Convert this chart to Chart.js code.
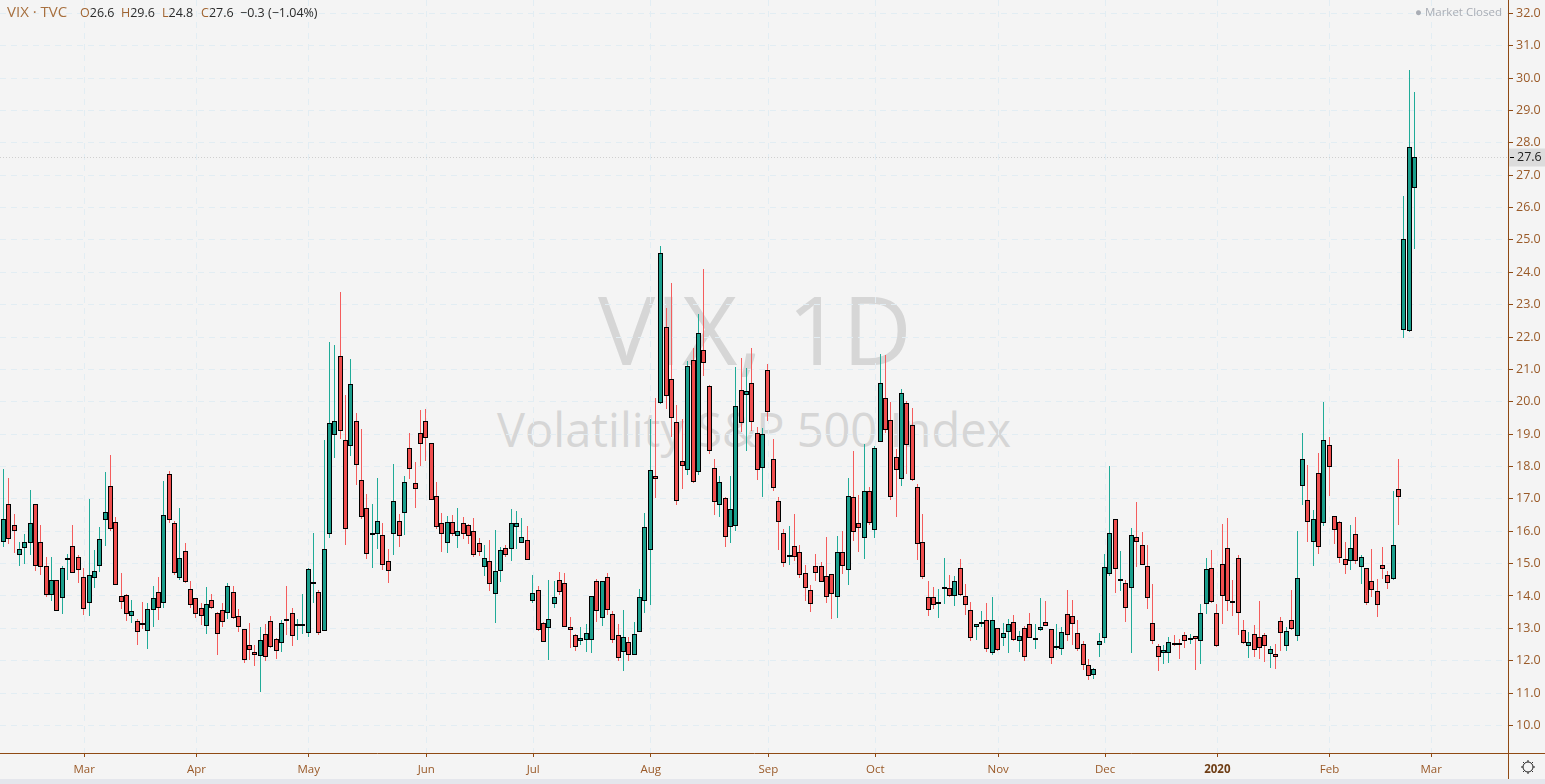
<!DOCTYPE html>
<html>
<head>
<meta charset="utf-8">
<title>VIX</title>
<script src="https://cdn.jsdelivr.net/npm/chart.js@4/dist/chart.umd.js"></script>
<style>
  html, body { margin: 0; padding: 0; background: #e4e6ec; }
  #wrap { position: relative; width: 1545px; height: 779px; background: #f4f4f4; overflow: hidden; font-family: "Open Sans", sans-serif; }
  #chart { position: absolute; left: 0; top: 0; }
  .mark { position: absolute; color: #d6d6d6; white-space: nowrap; }
  #mark1 { left: 598px; top: 262px; font-size: 96px; }
  #mark2 { left: 497px; top: 397px; font-size: 47px; }
  #legend span { position: absolute; top: 4px; font-size: 12.5px; color: #2b2b2b; white-space: nowrap; }
  #legend span b { font-weight: normal; color: #a0632f; }
  #legend .name { top: 1px; font-size: 15px; color: #a8703f; }
  #status { position: absolute; left: 1415px; top: 4px; font-size: 11.5px; color: #a9adb5; white-space: nowrap; }
</style>
</head>
<body>
<div id="wrap">
  <div class="mark" id="mark1">VIX, 1D</div>
  <div class="mark" id="mark2">Volatility S&amp;P 500 Index</div>
  <canvas id="chart" width="1545" height="779"></canvas>
  <div id="legend">
    <span class="name" style="left:7px">VIX · TVC</span>
    <span style="left:80px"><b>O</b>26.6</span>
    <span style="left:121px"><b>H</b>29.6</span>
    <span style="left:162px"><b>L</b>24.8</span>
    <span style="left:201px"><b>C</b>27.6</span>
    <span style="left:240px">−0.3 (−1.04%)</span>
  </div>
  <div id="status">● Market Closed</div>
</div>
<script>
var opens = [15.66,16.83,16.18,15.26,15.47,15.63,16.83,15.66,14.92,14.02,
  14.48,13.93,15.16,15.53,15.19,14.58,13.77,14.55,14.92,16.34,
  17.39,16.28,13.99,14.02,13.37,13.22,13.16,12.91,13.56,14.11,
  13.77,17.76,16.25,14.55,15.38,14.21,13.93,13.62,13.06,13.87,
  13.46,13.56,13.46,14.11,13.37,12.97,12.48,12.26,12.14,12.82,
  13.22,12.66,12.54,13.30,13.46,13.06,13.12,12.87,14.36,14.11,
  12.92,15.90,18.96,21.40,18.81,18.62,19.39,17.57,16.71,15.90,
  15.90,15.87,15.07,15.93,16.33,16.55,18.56,17.48,19.05,19.42,
  18.74,17.08,16.24,15.65,16.30,15.84,16.27,16.18,16.00,15.65,
  14.91,15.07,14.05,14.76,15.47,15.44,16.12,15.65,15.72,13.86,
  14.17,13.18,13.00,13.74,14.48,14.39,13.03,12.78,12.60,12.63,
  12.63,14.45,13.31,14.58,13.43,12.81,12.26,12.59,12.17,12.88,
  13.84,15.41,17.70,19.95,22.30,20.69,19.37,18.16,17.88,21.28,
  17.82,21.59,20.48,17.95,16.80,17.02,16.12,16.15,20.36,20.20,
  20.57,19.03,17.95,20.97,18.22,16.93,15.94,15.26,15.54,15.35,
  14.70,14.17,14.92,14.92,14.61,14.67,13.96,15.35,14.79,17.05,
  16.24,15.78,17.23,16.03,18.75,20.11,19.43,18.28,17.60,19.95,
  19.27,17.36,15.66,13.96,13.96,13.80,14.21,14.24,13.99,14.85,
  13.99,13.56,13.03,13.20,13.25,12.23,13.00,12.69,12.88,13.19,
  12.60,13.00,13.15,12.68,12.94,13.19,12.97,12.41,12.35,13.43,
  13.37,12.85,12.53,11.87,11.57,12.50,12.69,14.69,16.39,14.48,
  14.39,14.26,15.81,15.56,14.94,13.18,12.46,12.25,12.25,12.56,
  12.55,12.81,12.68,12.75,12.62,13.74,14.85,13.46,15.00,15.47,
  13.86,15.16,12.96,12.44,12.84,12.72,12.81,12.22,12.22,13.24,
  12.47,13.27,12.75,17.41,16.95,15.68,17.81,16.24,18.65,16.46,
  16.30,15.13,15.07,15.90,14.91,14.88,14.45,14.14,14.97,14.66,
  14.54,17.32,22.23,22.20,26.61];
var highs = [17.92,17.65,16.53,15.67,15.92,17.27,16.83,16.19,15.20,15.20,
  14.48,14.92,15.30,16.19,15.26,14.87,17.00,15.42,16.12,17.83,
  18.36,16.43,14.70,14.06,13.88,13.29,13.80,13.78,14.31,14.59,
  17.55,17.85,16.32,16.71,15.64,14.46,13.93,13.77,14.28,14.06,
  13.50,13.78,14.39,14.31,13.60,12.97,13.17,12.49,13.04,13.13,
  13.38,12.69,13.25,14.31,13.63,13.29,14.06,14.85,15.94,14.18,
  18.82,21.84,21.75,23.39,20.21,21.32,19.65,19.16,17.15,16.84,
  17.64,16.25,15.45,18.07,16.53,17.70,19.05,18.15,19.74,19.77,
  18.74,17.52,16.56,16.46,16.49,16.71,16.43,16.21,16.41,15.78,
  15.56,15.73,16.03,15.50,15.56,16.68,16.61,16.41,16.16,14.65,
  14.31,13.20,14.49,14.46,14.74,14.71,13.35,12.84,13.04,13.15,
  13.99,14.52,14.45,14.71,13.53,13.14,13.57,12.73,13.20,14.21,
  16.55,19.47,20.11,24.81,22.89,23.66,19.89,19.47,21.25,21.65,
  22.71,24.10,20.51,18.23,17.70,17.05,17.70,21.08,21.35,21.05,
  21.66,19.22,19.19,21.17,18.85,17.06,16.06,16.16,16.53,15.56,
  14.96,14.34,15.30,15.05,15.82,14.68,15.85,16.01,17.65,18.48,
  17.12,18.70,17.37,18.62,21.48,21.45,20.00,18.54,20.38,20.02,
  19.81,17.45,16.53,14.46,14.28,14.22,15.17,14.65,14.61,15.14,
  14.37,13.81,13.12,13.53,13.78,13.97,13.00,13.17,13.29,13.40,
  12.92,13.07,13.49,13.13,13.94,13.84,12.97,13.13,13.04,14.18,
  13.88,13.26,12.60,12.05,11.79,12.85,15.29,18.01,16.39,15.38,
  14.48,16.10,16.90,15.97,15.57,14.36,12.53,12.48,12.73,12.79,
  12.67,12.90,12.84,12.75,13.74,15.16,15.42,13.75,16.22,16.40,
  14.49,15.26,13.25,12.88,13.10,13.84,12.85,12.45,12.51,13.35,
  13.03,14.18,16.00,19.03,18.04,16.65,18.41,19.98,18.91,16.46,
  16.33,15.66,16.18,16.43,15.28,14.88,15.45,14.54,15.51,14.76,
  17.23,18.23,26.35,30.25,29.57];
var lows = [15.52,15.61,15.34,14.93,14.99,15.27,14.78,14.65,13.97,13.85,
  13.53,13.44,14.49,14.70,14.40,13.41,13.38,14.25,14.74,15.54,
  16.01,14.33,13.60,13.23,13.17,12.49,12.97,12.36,13.04,13.26,
  13.63,16.26,14.65,14.49,14.39,13.63,13.31,13.10,12.83,13.60,
  12.18,13.05,13.29,13.29,12.90,11.94,12.02,11.84,11.04,12.00,
  12.38,12.06,12.27,12.79,12.47,12.64,12.84,12.74,13.79,12.79,
  12.92,15.80,18.27,18.85,15.57,18.33,17.43,16.39,15.15,14.86,
  15.46,14.81,14.41,15.26,15.51,15.88,17.61,16.72,18.01,18.17,
  16.98,16.06,15.36,15.33,15.84,15.48,15.76,15.60,15.20,15.23,
  14.61,14.15,13.17,14.43,15.19,15.08,15.44,15.65,15.10,13.79,
  12.92,12.57,12.03,13.64,14.02,13.03,12.39,12.31,12.49,12.28,
  12.23,13.21,13.08,13.41,12.56,12.00,11.69,12.00,12.17,12.88,
  13.47,13.73,17.04,19.92,19.78,18.91,16.82,17.31,17.74,17.50,
  17.74,20.78,18.40,16.50,16.45,15.51,15.64,16.01,19.07,18.48,
  19.10,17.58,17.06,19.41,17.25,15.42,14.91,14.96,15.07,14.56,
  13.84,13.52,14.46,14.42,13.79,13.30,13.33,14.68,14.34,15.71,
  15.36,15.14,16.19,15.80,18.75,19.03,16.97,16.44,17.40,17.77,
  17.56,15.11,14.52,13.38,13.60,13.32,13.75,13.98,13.69,14.00,
  13.41,12.61,12.64,13.04,12.28,12.19,12.30,12.45,12.24,12.61,
  12.27,11.99,12.69,12.36,12.92,13.06,11.91,12.33,12.19,12.62,
  12.49,12.30,11.71,11.41,11.44,12.12,12.55,14.62,14.09,14.15,
  13.19,12.24,14.90,14.95,13.59,12.52,11.69,11.90,11.93,12.45,
  12.05,12.39,12.53,11.71,11.89,13.44,13.77,12.43,13.13,13.54,
  13.38,12.81,12.51,12.08,12.12,12.05,11.95,11.77,11.74,12.29,
  12.29,12.94,12.61,16.81,15.66,14.92,15.29,16.17,17.08,15.60,
  15.01,14.67,14.80,15.00,14.36,13.72,13.96,13.35,14.52,14.21,
  14.49,16.19,21.97,22.16,24.72];
var closes = [16.37,15.75,16.00,15.44,15.66,16.25,14.92,14.89,14.02,14.48,
  13.53,14.85,15.17,14.70,14.79,13.59,14.64,14.76,15.75,16.59,
  16.06,14.33,13.80,13.43,13.53,12.88,13.15,13.59,13.93,13.62,
  16.49,16.34,14.70,15.16,14.42,13.71,13.43,13.37,13.74,13.62,
  12.82,13.19,14.30,13.31,13.03,12.01,12.32,12.17,12.63,12.11,
  12.41,12.29,13.16,13.29,12.75,13.12,13.13,14.82,14.42,12.87,
  15.44,19.33,19.42,19.11,16.06,20.54,18.06,16.43,15.31,15.96,
  16.33,14.97,14.76,16.92,15.84,17.51,17.91,17.32,18.71,18.87,
  16.98,16.12,15.93,16.30,15.93,16.00,15.93,15.84,15.28,15.35,
  15.16,14.36,14.76,15.41,15.28,16.27,16.24,15.81,15.10,14.08,
  12.94,12.57,13.28,13.96,14.11,13.03,12.94,12.41,12.69,12.87,
  13.99,13.53,14.45,13.56,12.63,12.07,12.74,12.17,12.84,13.96,
  16.12,17.88,17.61,24.59,20.17,19.49,16.93,18.01,21.10,17.51,
  22.12,21.19,18.47,16.89,17.51,15.81,16.68,19.86,19.34,20.32,
  19.37,17.88,19.00,19.68,17.33,16.28,15.01,15.27,15.20,14.64,
  14.24,13.74,14.70,14.42,13.96,14.05,15.35,14.92,17.08,15.97,
  16.09,17.23,16.24,18.56,20.57,19.12,17.05,17.88,20.26,18.65,
  17.57,15.60,14.58,13.56,13.71,13.81,14.27,13.99,14.45,14.02,
  13.71,12.69,13.12,13.21,12.35,13.25,12.32,12.85,13.12,12.63,
  12.75,12.10,12.69,12.69,13.03,13.06,12.07,12.47,12.88,12.78,
  13.15,12.35,11.88,11.54,11.76,12.62,14.91,15.96,14.82,14.54,
  13.64,15.87,15.68,14.97,13.95,12.62,12.13,12.32,12.59,12.50,
  12.54,12.62,12.69,12.66,13.46,14.82,13.80,12.47,14.01,13.86,
  13.80,13.46,12.56,12.59,12.32,12.38,12.44,12.35,12.10,12.87,
  12.93,12.99,14.57,18.22,16.30,16.39,15.50,18.83,17.97,16.05,
  15.16,14.97,15.47,15.07,15.19,13.77,14.17,13.71,14.82,14.39,
  15.56,17.07,25.02,27.87,27.55];

var monthTicks = [15, 36, 57, 79, 99, 121, 143, 163, 186, 206, 227, 248, 267];
var monthLabels = ['Mar', 'Apr', 'May', 'Jun', 'Jul', 'Aug', 'Sep', 'Oct', 'Nov', 'Dec', '2020', 'Feb', 'Mar'];
var priceTicks = [10, 11, 12, 13, 14, 15, 16, 17, 18, 19, 20, 21, 22, 23, 24, 25, 26, 27, 28, 29, 30, 31, 32];

var upColor = '#1a9e8c';
var downColor = '#f04e4e';
var upWick = '#20ab98';
var downWick = '#f45c5c';
var brown = '#8f4a14';
var labelBrown = '#9a5a28';
var gridColor = '#e2edf3';

function isUp(i) {
  return closes[i] >= opens[i];
}

// snap the bars to whole pixels so they stay sharp, the way the original does
var snapBars = {
  id: 'snapBars',
  afterDatasetsUpdate: function (chart) {
    chart.data.datasets.forEach(function (ds, d) {
      chart.getDatasetMeta(d).data.forEach(function (bar) {
        bar.x = Math.round(bar.x) - 0.5;
        bar.y = Math.round(bar.y);
        bar.base = Math.round(bar.base);
        if (ds.label === 'body' && Math.abs(bar.base - bar.y) < 2) {
          bar.base = bar.y + 2;
        }
      });
    });
  }
};

var lastPrice = {
  id: 'lastPrice',
  beforeDatasetsDraw: function (chart) {
    var ctx = chart.ctx;
    var y = Math.round(chart.scales.y.getPixelForValue(closes[closes.length - 1])) + 0.5;
    ctx.save();
    ctx.strokeStyle = '#cfcfcf';
    ctx.setLineDash([1, 2]);
    ctx.beginPath();
    ctx.moveTo(0, y);
    ctx.lineTo(chart.chartArea.right, y);
    ctx.stroke();
    ctx.restore();
  },
  afterDraw: function (chart) {
    var ctx = chart.ctx;
    var area = chart.chartArea;
    var y = Math.round(chart.scales.y.getPixelForValue(closes[closes.length - 1])) + 0.5;
    ctx.save();
    // axis lines carry on into the corner
    ctx.strokeStyle = brown;
    ctx.beginPath();
    ctx.moveTo(area.right, area.bottom + 0.5);
    ctx.lineTo(1545, area.bottom + 0.5);
    ctx.moveTo(area.right + 0.5, area.bottom);
    ctx.lineTo(area.right + 0.5, 779);
    ctx.stroke();
    // price tag
    ctx.fillStyle = '#dcdcdc';
    ctx.fillRect(area.right + 1, y - 9, 36, 18);
    ctx.strokeStyle = '#000';
    ctx.beginPath();
    ctx.moveTo(area.right + 2, y);
    ctx.lineTo(area.right + 6, y);
    ctx.stroke();
    ctx.fillStyle = '#222';
    ctx.font = '12.5px "Open Sans"';
    ctx.textBaseline = 'middle';
    ctx.fillText(closes[closes.length - 1].toFixed(1), area.right + 9, y);
    // settings gear
    var cx = 1528, cy = 767;
    ctx.strokeStyle = '#222';
    ctx.beginPath();
    ctx.arc(cx, cy, 5, 0, Math.PI * 2);
    for (var k = 0; k < 8; k++) {
      var a = k * Math.PI / 4;
      ctx.moveTo(cx + Math.cos(a) * 5, cy + Math.sin(a) * 5);
      ctx.lineTo(cx + Math.cos(a) * 7, cy + Math.sin(a) * 7);
    }
    ctx.stroke();
    ctx.restore();
  }
};

var chart = new Chart(document.getElementById('chart'), {
  type: 'bar',
  data: {
    datasets: [{
      label: 'wick',
      data: opens.map(function (o, i) { return { x: i, y: [lows[i], highs[i]] }; }),
      backgroundColor: opens.map(function (o, i) { return isUp(i) ? upWick : downWick; }),
      barThickness: 1,
      borderWidth: 0,
      inflateAmount: 0,
      grouped: false,
      order: 2
    }, {
      label: 'body',
      data: opens.map(function (o, i) { return { x: i, y: [o, closes[i]] }; }),
      backgroundColor: opens.map(function (o, i) { return isUp(i) ? upColor : downColor; }),
      borderColor: '#000',
      borderWidth: 1,
      borderSkipped: false,
      barThickness: 5,
      inflateAmount: 0,
      grouped: false,
      order: 1
    }]
  },
  options: {
    responsive: false,
    animation: false,
    events: [],
    layout: { autoPadding: false, padding: 0 },
    plugins: { legend: { display: false }, tooltip: { enabled: false } },
    scales: {
      x: {
        type: 'linear',
        offset: false,
        min: -0.748,
        max: 281.38,
        afterFit: function (s) { s.height = 26; s.paddingLeft = 0; s.paddingRight = 0; },
        afterBuildTicks: function (s) {
          s.ticks = monthTicks.map(function (v) { return { value: v }; });
        },
        grid: { offset: false, color: gridColor, tickColor: brown, tickLength: 4, tickBorderDash: [] },
        border: { color: brown, width: 1, dash: [6, 5] },
        ticks: {
          autoSkip: false,
          maxRotation: 0,
          padding: 6,
          color: function (c) { return monthLabels[c.index] === '2020' ? '#6e3d14' : labelBrown; },
          font: function (c) {
            return { family: '"Open Sans"', size: 11.5, weight: monthLabels[c.index] === '2020' ? 'bold' : 'normal' };
          },
          callback: function (v, i) { return monthLabels[i]; }
        }
      },
      y: {
        position: 'right',
        min: 9.15,
        max: 32.41,
        afterFit: function (s) { s.width = 37; s.paddingTop = 0; s.paddingBottom = 0; },
        afterBuildTicks: function (s) {
          s.ticks = priceTicks.map(function (v) { return { value: v }; });
        },
        grid: { color: gridColor, tickColor: brown, tickLength: 5, tickBorderDash: [] },
        border: { color: brown, width: 1, dash: [6, 5] },
        ticks: {
          autoSkip: false,
          padding: 3,
          color: labelBrown,
          font: { family: '"Open Sans"', size: 12.5 },
          callback: function (v) { return v.toFixed(1); }
        }
      }
    }
  },
  plugins: [snapBars, lastPrice]
});
</script>
</body>
</html>
